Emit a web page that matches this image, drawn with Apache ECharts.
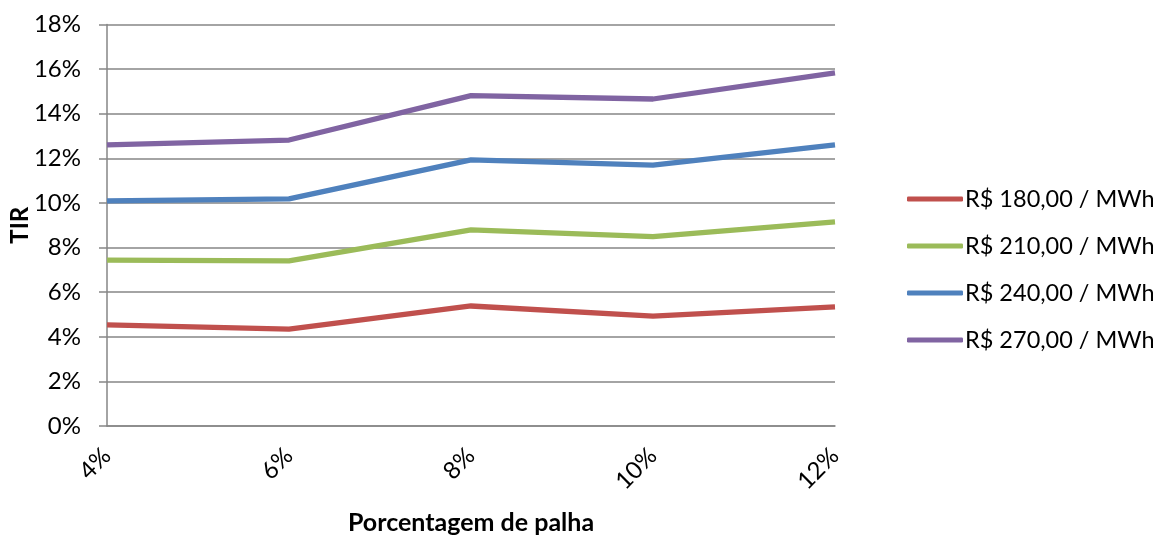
<!DOCTYPE html>
<html>
<head>
<meta charset="utf-8">
<script src="https://cdn.jsdelivr.net/npm/echarts@6/dist/echarts.min.js"></script>
<style>
  html, body { margin: 0; padding: 0; background: #fff; }
  #chart { width: 1153px; height: 535px; }
</style>
</head>
<body>
<div id="chart"></div>
<script>
// Share of straw (x axis) and IRR values (%) per energy price scenario
const categories = ['4%', '6%', '8%', '10%', '12%'];
const seriesNames = ['R$ 180,00 / MWh', 'R$ 210,00 / MWh', 'R$ 240,00 / MWh', 'R$ 270,00 / MWh'];
const tir180 = [4.53, 4.34, 5.38, 4.93, 5.34];
const tir210 = [7.44, 7.40, 8.79, 8.49, 9.15];
const tir240 = [10.09, 10.18, 11.93, 11.70, 12.60];
const tir270 = [12.60, 12.82, 14.81, 14.66, 15.83];
const colors = ['#C0504D', '#9BBB59', '#4F81BD', '#8064A2'];

const font = 'Lato, "Open Sans", "Liberation Sans", sans-serif';
const values = [tir180, tir210, tir240, tir270];

const chart = echarts.init(document.getElementById('chart'), null, { renderer: 'canvas' });
chart.setOption({
  animation: false,
  backgroundColor: '#ffffff',
  color: colors,
  textStyle: { fontFamily: font },
  grid: { left: 107, right: 318, top: 24.5, bottom: 109, containLabel: false, outerBoundsMode: 'none' },
  legend: {
    orient: 'vertical',
    left: 902,
    top: 182,
    itemWidth: 56,
    itemHeight: 5,
    itemGap: 23,
    icon: 'roundRect',
    textStyle: { fontSize: 23.5, color: '#000', fontFamily: font, padding: [0, 0, 0, -3] },
    data: seriesNames
  },
  xAxis: {
    type: 'category',
    data: categories,
    boundaryGap: false,
    name: 'Porcentagem de palha',
    nameLocation: 'middle',
    nameGap: 84,
    nameMoveOverlap: false,
    nameTextStyle: { fontSize: 25, fontWeight: 'bold', color: '#000', fontFamily: font },
    axisLine: { lineStyle: { color: '#868686', width: 1.5 } },
    axisTick: { show: false },
    axisLabel: { rotate: 45, fontSize: 24, color: '#000', margin: 26, fontFamily: font }
  },
  yAxis: {
    type: 'value',
    min: 0,
    max: 18,
    interval: 2,
    name: 'TIR',
    nameLocation: 'middle',
    nameGap: 75,
    nameMoveOverlap: false,
    nameTextStyle: { fontSize: 24, fontWeight: 'bold', color: '#000', fontFamily: font },
    axisLine: { show: true, lineStyle: { color: '#868686', width: 1.5 } },
    axisTick: { show: true, length: 8, lineStyle: { color: '#868686', width: 1.5 } },
    axisLabel: { formatter: '{value}%', fontSize: 24, color: '#000', margin: 26, fontFamily: font },
    splitLine: { lineStyle: { color: '#868686', width: 1.5 } }
  },
  series: seriesNames.map((name, i) => ({
    name: name,
    type: 'line',
    data: values[i],
    showSymbol: false,
    symbol: 'none',
    lineStyle: { width: 5.3, color: colors[i] },
    itemStyle: { color: colors[i] }
  }))
});
</script>
</body>
</html>
